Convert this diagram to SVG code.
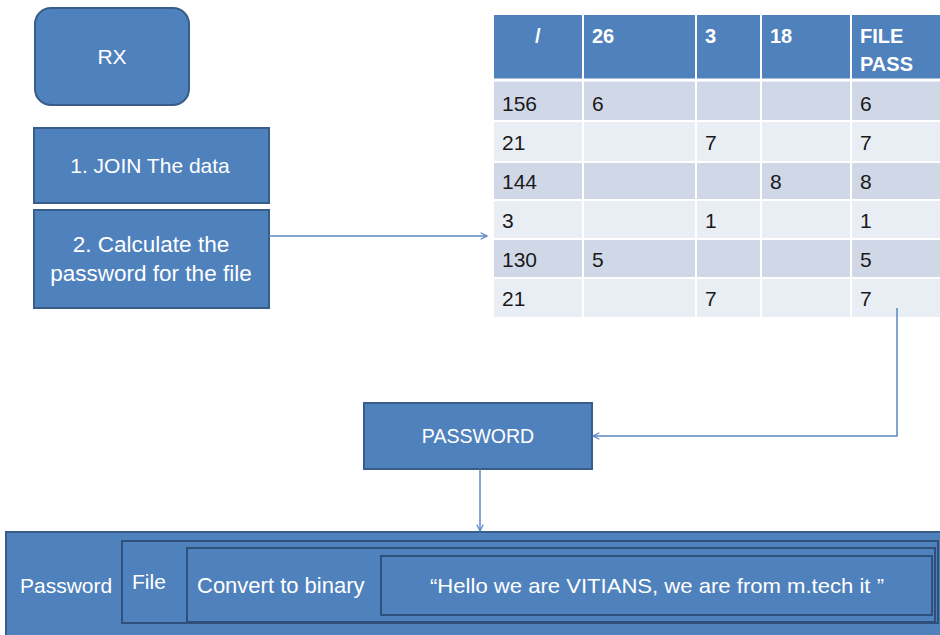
<svg xmlns="http://www.w3.org/2000/svg" width="940" height="635" viewBox="0 0 940 635">
<style>
.box{fill:#4f81bd;stroke:#385d8a;stroke-width:2}
.inner{fill:#4f81bd;stroke:#2f507a;stroke-width:2}
.wt{fill:#ffffff;font-family:"Liberation Sans",Arial,sans-serif;font-size:21px}
.hd{fill:#ffffff;font-family:"Liberation Sans",Arial,sans-serif;font-size:20px;font-weight:bold}
.cell{fill:#1a1a1a;font-family:"Liberation Sans",Arial,sans-serif;font-size:21px}
.conn{fill:none;stroke:#5b86c4;stroke-width:1.5}
</style>
<defs>
<marker id="arr" viewBox="0 0 10 10" refX="9" refY="5" markerWidth="8" markerHeight="8" orient="auto" markerUnits="userSpaceOnUse">
<path d="M1,1 L9,5 L1,9" fill="none" stroke="#5b86c4" stroke-width="1.5"/>
</marker>
</defs>
<rect width="940" height="635" fill="#ffffff"/>

<g id="rx">
<rect class="box" x="35" y="8" width="154" height="97" rx="16"/>
<text class="wt" x="112" y="64" text-anchor="middle">RX</text>
</g>

<g id="join">
<rect class="box" x="34" y="128" width="235" height="75"/>
<text class="wt" x="150" y="173" text-anchor="middle">1. JOIN The data</text>
</g>

<g id="calc">
<rect class="box" x="34" y="210" width="235" height="98"/>
<text class="wt" x="151" y="252" text-anchor="middle" style="font-size:22.5px">2. Calculate the</text>
<text class="wt" x="151" y="281" text-anchor="middle" style="font-size:22.5px">password for the file</text>
</g>

<g id="table">
<rect x="494" y="15" width="446" height="65" fill="#4f81bd"/>
<rect x="494" y="80" width="446" height="41" fill="#d0d8e8"/>
<rect x="494" y="121" width="446" height="41" fill="#e9edf4"/>
<rect x="494" y="162" width="446" height="38" fill="#d0d8e8"/>
<rect x="494" y="200" width="446" height="39" fill="#e9edf4"/>
<rect x="494" y="239" width="446" height="39" fill="#d0d8e8"/>
<rect x="494" y="278" width="446" height="39" fill="#e9edf4"/>
<g stroke="#ffffff" stroke-width="2">
<line x1="583" y1="15" x2="583" y2="317"/>
<line x1="696" y1="15" x2="696" y2="317"/>
<line x1="761" y1="15" x2="761" y2="317"/>
<line x1="851" y1="15" x2="851" y2="317"/>
<line x1="494" y1="80" x2="940" y2="80" stroke-width="3"/>
<line x1="494" y1="121" x2="940" y2="121"/>
<line x1="494" y1="162" x2="940" y2="162"/>
<line x1="494" y1="200" x2="940" y2="200"/>
<line x1="494" y1="239" x2="940" y2="239"/>
<line x1="494" y1="278" x2="940" y2="278"/>
</g>
<text class="hd" x="535" y="43">/</text>
<text class="hd" x="592" y="43">26</text>
<text class="hd" x="705" y="43">3</text>
<text class="hd" x="770" y="43">18</text>
<text class="hd" x="860" y="43">FILE</text>
<text class="hd" x="860" y="71">PASS</text>
<text class="cell" x="502" y="111">156</text><text class="cell" x="592" y="111">6</text><text class="cell" x="860" y="111">6</text>
<text class="cell" x="502" y="150">21</text><text class="cell" x="705" y="150">7</text><text class="cell" x="860" y="150">7</text>
<text class="cell" x="502" y="189">144</text><text class="cell" x="770" y="189">8</text><text class="cell" x="860" y="189">8</text>
<text class="cell" x="502" y="228">3</text><text class="cell" x="705" y="228">1</text><text class="cell" x="860" y="228">1</text>
<text class="cell" x="502" y="267">130</text><text class="cell" x="592" y="267">5</text><text class="cell" x="860" y="267">5</text>
<text class="cell" x="502" y="306">21</text><text class="cell" x="705" y="306">7</text><text class="cell" x="860" y="306">7</text>
</g>

<g id="password">
<rect class="box" x="364" y="403" width="228" height="66"/>
<text class="wt" x="478" y="443" text-anchor="middle" style="font-size:19.5px">PASSWORD</text>
</g>

<g id="bottom">
<rect class="box" x="6" y="532" width="940" height="110"/>
<rect class="inner" x="122" y="541" width="816" height="82"/>
<rect class="inner" x="187" y="548" width="748" height="74"/>
<rect class="inner" x="381" y="556" width="551" height="59"/>
<text class="wt" x="20" y="593">Password</text>
<text class="wt" x="132" y="589">File</text>
<text class="wt" x="197" y="593" style="font-size:22px">Convert to binary</text>
<text class="wt" x="430" y="593" textLength="454" lengthAdjust="spacingAndGlyphs">“Hello we are VITIANS, we are from m.tech it ”</text>
</g>

<g id="connectors">
<line class="conn" x1="269" y1="236" x2="487" y2="236" marker-end="url(#arr)"/>
<polyline class="conn" points="897,308 897,436 593,436" marker-end="url(#arr)"/>
<line class="conn" x1="480" y1="469" x2="480" y2="531" marker-end="url(#arr)"/>
</g>
</svg>
